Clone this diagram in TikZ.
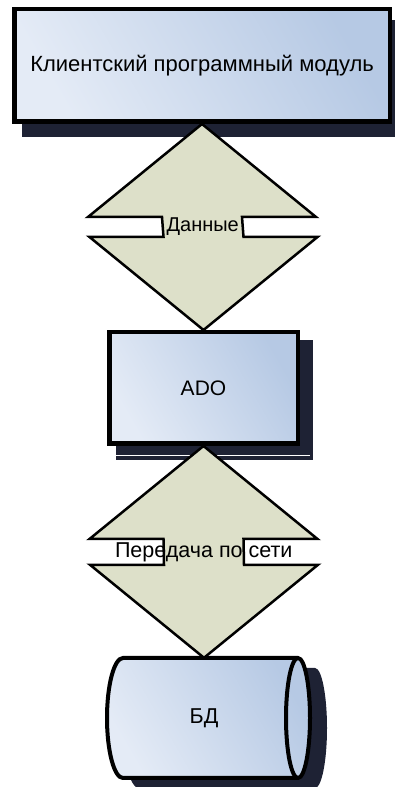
\documentclass[tikz,border=0pt]{standalone}
\usepackage{fontspec}
\setmainfont{Liberation Sans}
\usetikzlibrary{calc}

\definecolor{boxlight}{RGB}{228,235,246}
\definecolor{boxdark}{RGB}{182,201,228}
\definecolor{linkfill}{RGB}{221,224,201}
\definecolor{shadowc}{RGB}{30,34,52}

\tikzset{
  blockbox/.style={draw=black, line width=4.5pt, left color=boxlight, right color=boxdark, shading angle=120, inner sep=0pt},
  shadowbox/.style={fill=shadowc},
  linkbody/.style={draw=black, line width=2.5pt, fill=linkfill, line join=miter},
  linklabel/.style={inner sep=0pt},
}

% double arrow between two tips
\newcommand{\twoway}[2]{%
  \filldraw[linkbody] (#1) -- ++(-114,-93) -- ++(74,0) -- ($(#2)+(-40,93)$)
    -- ++(-74,0) -- (#2) -- ++(114,93) -- ++(-74,0) -- ($(#1)+(40,-93)$)
    -- ++(74,0) -- cycle;}

\begin{document}
\begin{tikzpicture}[x=1pt,y=1pt]
    \useasboundingbox (0,0) rectangle (395,787);
    %\draw [help lines, step=10] (0,0) grid (395,787);

    % shadows
    \path [shadowbox] (22,650) rectangle (402,767);
    \path [shadowbox] (116,327) rectangle (313,447);
    \draw [white, line width=1pt] (116,331) -- (310,331);
    \path [shadowbox] (139,-1) -- (315,-1) arc (-90:90:12 and 60) -- (139,119) arc (90:270:16 and 60) -- cycle;

    % database cylinder
    \draw [line width=4pt, left color=boxlight, right color=boxdark, shading angle=120]
        (123,9) -- (298,9) arc (-90:90:12 and 60) -- (123,129) arc (90:270:16 and 60) -- cycle;
    \draw [line width=4pt] (298,129) arc (90:270:12 and 60);

    % blocks
    \node [blockbox, minimum width=375.5pt, minimum height=112.5pt, font=\fontsize{22}{24}\selectfont] (client) at (202,721.5) {Клиентский программный модуль};
    \node [blockbox, minimum width=188.5pt, minimum height=111.5pt, font=\fontsize{21}{24}\selectfont] (ado) at (203.5,399) {ADO};
    \node [inner sep=0pt, minimum height=120pt, font=\fontsize{21.5}{24}\selectfont] (db) at (204,69) {БД};

    % links
    \twoway{client.south}{ado.north}
    \twoway{ado.south}{db.north}

    \node [linklabel, font=\fontsize{20}{22}\selectfont] (datalbl) at ($(client.south)!0.5!(ado.north)$) {Данные};
    \node [linklabel, font=\fontsize{21.5}{24}\selectfont] (netlbl) at ($(ado.south)!0.5!(db.north)$) {Передача по сети};
\end{tikzpicture}
\end{document}
